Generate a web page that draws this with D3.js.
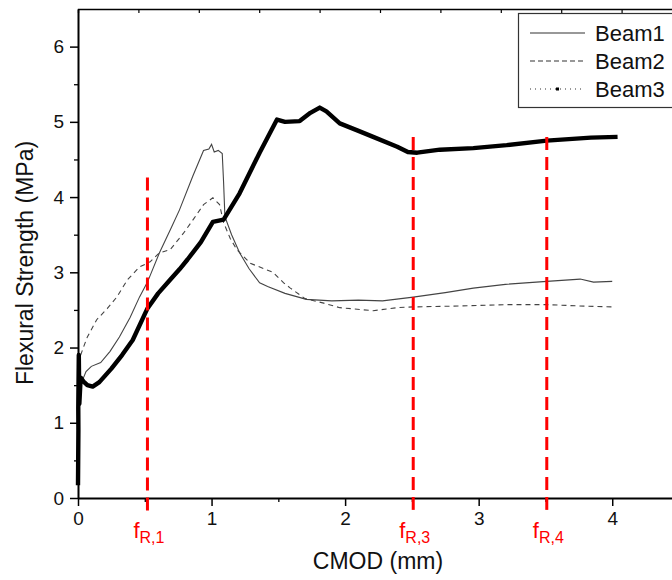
<!DOCTYPE html>
<html lang="en">
<head>
<meta charset="UTF-8">
<title>Flexural strength vs CMOD</title>
<script src="https://d3js.org/d3.v7.min.js"></script>
<style>
  body { margin: 0; background: #fff; }
  text { font-family: "Liberation Sans", Arial, sans-serif; }
</style>
</head>
<body>
<svg id="chart" width="672" height="580"></svg>
<script>
// data: [CMOD (mm), strength (MPa)]
const beam1 = [[0.03,1.55],[0.06,1.68],[0.1,1.75],[0.17,1.8],[0.24,1.95],[0.31,2.14],[0.39,2.4],[0.46,2.67],
  [0.52,2.87],[0.61,3.26],[0.7,3.6],[0.76,3.83],[0.86,4.28],[0.94,4.62],[0.98,4.64],[1.0,4.7],[1.02,4.6],
  [1.05,4.62],[1.08,4.58],[1.09,4.2],[1.1,3.74],[1.15,3.5],[1.21,3.26],[1.28,3.05],[1.36,2.86],[1.42,2.81],
  [1.55,2.72],[1.71,2.64],[1.9,2.62],[2.1,2.63],[2.28,2.62],[2.51,2.67],[2.75,2.73],[2.96,2.79],[3.2,2.84],
  [3.51,2.88],[3.76,2.91],[3.86,2.87],[4.0,2.88]];
const beam2 = [[0.02,1.9],[0.04,2.0],[0.07,2.14],[0.14,2.37],[0.22,2.52],[0.29,2.67],[0.37,2.9],[0.46,3.07],
  [0.54,3.14],[0.61,3.26],[0.69,3.3],[0.79,3.52],[0.87,3.72],[0.94,3.9],[1.01,3.99],[1.06,3.9],[1.09,3.66],
  [1.14,3.45],[1.19,3.3],[1.29,3.12],[1.46,3.0],[1.54,2.86],[1.59,2.79],[1.7,2.65],[1.84,2.59],[1.96,2.53],
  [2.21,2.49],[2.39,2.53],[2.51,2.54],[2.8,2.55],[3.21,2.57],[3.51,2.57],[3.8,2.55],[4.0,2.54]];
const beam3 = [[0,0.17],[0.003,0.9],[0.002,1.2],[0.006,1.9],[0.01,1.25],[0.02,1.6],[0.04,1.55],[0.07,1.5],
  [0.11,1.48],[0.16,1.54],[0.25,1.72],[0.33,1.9],[0.41,2.1],[0.52,2.52],[0.6,2.72],[0.69,2.9],[0.76,3.04],
  [0.82,3.17],[0.92,3.4],[1.01,3.67],[1.09,3.7],[1.21,4.05],[1.36,4.59],[1.49,5.03],[1.55,5.0],[1.66,5.01],
  [1.74,5.12],[1.81,5.19],[1.86,5.14],[1.96,4.98],[2.1,4.88],[2.21,4.8],[2.39,4.67],[2.47,4.6],[2.54,4.59],
  [2.71,4.63],[2.96,4.65],[3.21,4.69],[3.51,4.75],[3.84,4.79],[4.04,4.8]];
const seriesNames = ["Beam1", "Beam2", "Beam3"];

// residual strength markers
const frX = [0.52, 2.51, 3.51];
const frSub = ["R,1", "R,3", "R,4"];
const frTop = [4.26, 4.8, 4.8];

const xTicks = [0, 1, 2, 3, 4];
const yTicks = [0, 1, 2, 3, 4, 5, 6];

const svg = d3.select("#chart");

const x = d3.scaleLinear().domain([0, 4.5]).range([78, 679]);
const y = d3.scaleLinear().domain([0, 6.5]).range([498, 9]);

// frame: top line with small inward ticks
const topScale = d3.scaleLinear().domain([0, 10]).range([78, 682]);
svg.append("g")
  .attr("transform", "translate(0,9)")
  .call(d3.axisTop(topScale).tickValues(d3.range(1, 10)).tickSize(-4).tickFormat(""))
  .call(g => g.select(".domain").attr("stroke-width", 1.3))
  .call(g => g.selectAll("line").attr("stroke-width", 1.2));

// minor ticks
svg.append("g")
  .attr("transform", "translate(0,498)")
  .call(d3.axisBottom(x).tickValues(d3.range(0.5, 4.5, 1)).tickSize(4).tickFormat(""))
  .call(g => g.select(".domain").remove())
  .call(g => g.selectAll("line").attr("stroke-width", 1.3));
svg.append("g")
  .attr("transform", "translate(78,0)")
  .call(d3.axisLeft(y).tickValues(d3.range(0.5, 6.5, 1)).tickSize(4).tickFormat(""))
  .call(g => g.select(".domain").remove())
  .call(g => g.selectAll("line").attr("stroke-width", 1.3));

// main axes
svg.append("g")
  .attr("transform", "translate(0,498)")
  .call(d3.axisBottom(x).tickValues(xTicks).tickFormat(d3.format("d"))
    .tickSize(8).tickPadding(6).tickSizeOuter(0))
  .call(g => g.select(".domain").attr("stroke-width", 2))
  .call(g => g.selectAll("line").attr("stroke-width", 1.5))
  .call(g => g.selectAll("text").attr("font-size", 19).attr("fill", "#111")
    .attr("font-family", "Liberation Sans, Arial, sans-serif"));

svg.append("g")
  .attr("transform", "translate(78,0)")
  .call(d3.axisLeft(y).tickValues(yTicks).tickFormat(d3.format("d"))
    .tickSize(8).tickPadding(6).tickSizeOuter(0))
  .call(g => g.select(".domain").attr("stroke-width", 2))
  .call(g => g.selectAll("line").attr("stroke-width", 1.5))
  .call(g => g.selectAll("text").attr("font-size", 19).attr("fill", "#111")
    .attr("font-family", "Liberation Sans, Arial, sans-serif"));

// axis titles
svg.append("text")
  .attr("x", 378).attr("y", 569)
  .attr("text-anchor", "middle")
  .attr("font-size", 23)
  .attr("fill", "#111")
  .text("CMOD (mm)");

svg.append("text")
  .attr("transform", "translate(33,263) rotate(-90)")
  .attr("text-anchor", "middle")
  .attr("font-size", 23)
  .attr("fill", "#111")
  .text("Flexural Strength (MPa)");

// curves
const line = d3.line().x(d => x(d[0])).y(d => y(d[1]));

svg.append("path").datum(beam1)
  .attr("d", line).attr("fill", "none")
  .attr("stroke", "#444").attr("stroke-width", 1.1);

svg.append("path").datum(beam2)
  .attr("d", line).attr("fill", "none")
  .attr("stroke", "#444").attr("stroke-width", 1.1)
  .attr("stroke-dasharray", "5,4");

svg.append("path").datum(beam3)
  .attr("d", line).attr("fill", "none")
  .attr("stroke", "#000").attr("stroke-width", 4.4)
  .attr("stroke-linejoin", "round");

// red dashed markers
svg.selectAll(".fr").data(frX).join("line")
  .attr("class", "fr")
  .attr("x1", d => x(d)).attr("x2", d => x(d))
  .attr("y1", (d, i) => y(frTop[i])).attr("y2", y(-0.17))
  .attr("stroke", "#f00").attr("stroke-width", 3)
  .attr("stroke-dasharray", "13,7");

const frLabel = svg.selectAll(".frl").data(frX).join("text")
  .attr("class", "frl")
  .attr("x", d => x(d) - 14).attr("y", 538)
  .attr("fill", "#f00")
  .attr("font-family", "Open Sans, sans-serif")
  .attr("font-size", 22);
frLabel.append("tspan").text("f");
frLabel.append("tspan")
  .attr("font-size", 16).attr("dy", 5)
  .text((d, i) => frSub[i]);

// legend
const legend = svg.append("g");
legend.append("rect")
  .attr("x", 518.5).attr("y", 13.5).attr("width", 170).attr("height", 94)
  .attr("fill", "#fff").attr("stroke", "#333").attr("stroke-width", 1.2);

const legY = [33, 61, 89];
const legItems = legend.selectAll(".leg").data(seriesNames).join("g")
  .attr("class", "leg")
  .attr("transform", (d, i) => `translate(0,${legY[i]})`);

legItems.append("line")
  .attr("x1", 530).attr("x2", 585).attr("y1", 0).attr("y2", 0)
  .attr("stroke", "#333")
  .attr("stroke-width", (d, i) => i === 2 ? 1.2 : 1.1)
  .attr("stroke-dasharray", (d, i) => i === 0 ? null : i === 1 ? "5,3" : "1,4");

legItems.filter((d, i) => i === 2).append("rect")
  .attr("x", 556).attr("y", -1.5).attr("width", 3).attr("height", 3)
  .attr("fill", "#000");

legItems.append("text")
  .attr("x", 595).attr("y", 8)
  .attr("font-size", 22)
  .attr("fill", "#111")
  .text(d => d);
</script>
</body>
</html>
